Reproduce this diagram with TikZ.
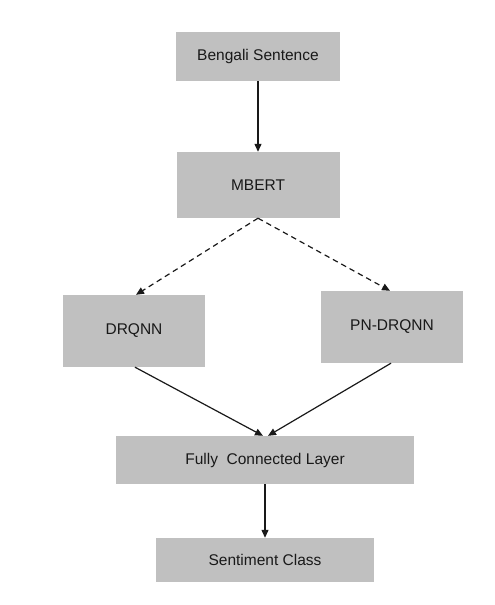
\documentclass[tikz,border=0pt]{standalone}
\usepackage{fontspec}
\setmainfont{Liberation Sans}
\usetikzlibrary{arrows.meta,calc}
\definecolor{boxgray}{RGB}{192,192,192}
\definecolor{txt}{RGB}{25,25,25}
\tikzset{
  block/.style={rectangle, fill=boxgray, draw=none, inner sep=0pt, text=txt,
    font=\fontsize{15.5}{18}\selectfont},
  conn/.style={line width=1.2pt, draw=black!90, -{Triangle[length=8pt,width=7pt]}},
  dconn/.style={conn, dash pattern=on 5.5pt off 4pt}
}
\begin{document}
\begin{tikzpicture}[x=1pt,y=-1pt]
\useasboundingbox (0,0) rectangle (495,605);
\node[block, minimum width=164pt, minimum height=49pt] (bs) at (258,56.5) {Bengali Sentence};
\node[block, minimum width=163pt, minimum height=66pt] (mbert) at (258,185) {MBERT};
\node[block, minimum width=142pt, minimum height=72pt] (drqnn) at (134,331) {DRQNN};
\node[block, minimum width=142pt, minimum height=72pt] (pn) at (392,327) {PN-DRQNN};
\node[block, minimum width=298pt, minimum height=48pt] (fc) at (265,460) {Fully\ \ Connected Layer};
\node[block, minimum width=218pt, minimum height=44pt] (sc) at (265,560) {Sentiment Class};
\draw[conn] (bs.south) -- (mbert.north);
\draw[dconn] (mbert.south) -- ($(drqnn.north)+(2,0)$);
\draw[dconn] (mbert.south) -- ($(pn.north)+(-2,0)$);
\draw[conn] ($(drqnn.south)+(1,0)$) -- ($(fc.north)+(-2,0)$);
\draw[conn] ($(pn.south)+(-1,0)$) -- ($(fc.north)+(3,0)$);
\draw[conn] (fc.south) -- (sc.north);
\end{tikzpicture}
\end{document}
